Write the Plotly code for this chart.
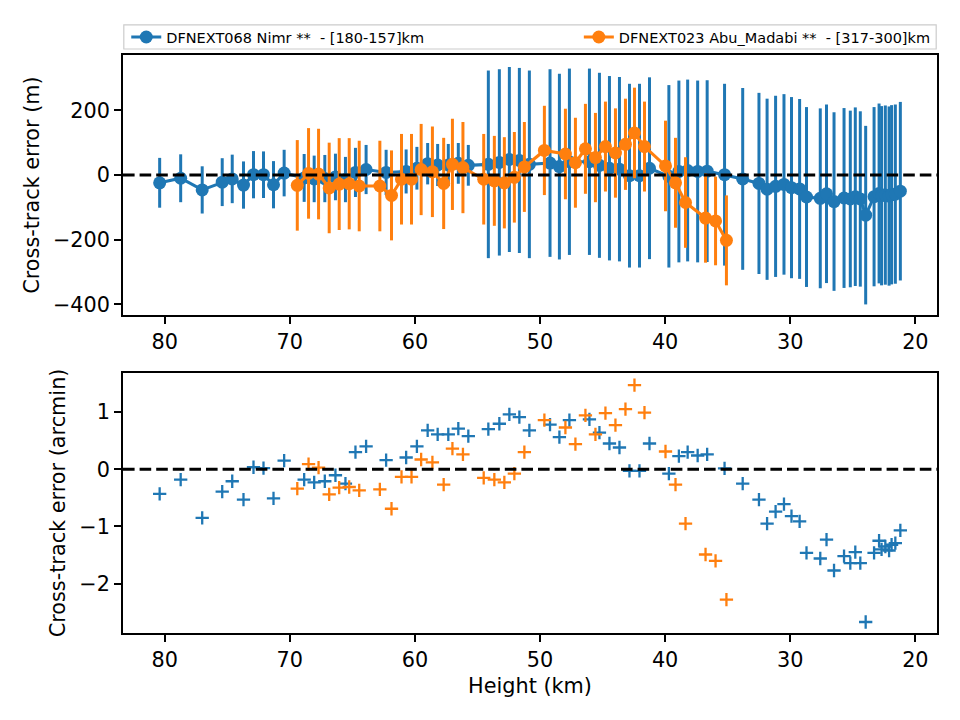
import plotly.graph_objects as go

# ---------------- data ----------------
blue_name = "DFNEXT068 Nimr **  - [180-157]km"
orange_name = "DFNEXT023 Abu_Madabi **  - [317-300]km"

blue_h = [80.4, 78.72, 77.0, 75.4, 74.6, 73.7, 72.9, 72.1, 71.3, 70.45,
          68.85, 68.05, 67.2, 66.35, 65.55, 64.75, 63.9, 62.3, 60.7, 59.84,
          58.98, 58.18, 57.33, 56.53, 55.73, 54.13, 53.25, 52.45, 51.65, 50.85,
          49.2, 48.45, 47.65, 46.05, 45.25, 44.45, 43.65, 42.85, 42.05, 41.25,
          39.7, 38.9, 38.2, 37.4, 36.64, 35.25, 33.8, 32.5, 31.85, 31.17,
          30.5, 29.9, 29.25, 28.7, 27.6, 27.1, 26.5, 25.7, 25.2, 24.8,
          24.4, 23.97, 23.3, 22.9, 22.7, 22.4, 22.1, 21.9, 21.6, 21.2]
blue_m = [-24, -10, -46, -22, -12, -31, 1, 1, -30, 6,
          -9, -12, -11, -6, -14, 8, 17, 8, 11, 21,
          35, 31, 31, 36, 30, 33, 39, 48, 45, 33,
          37, 26, 41, 41, 30, 21, 18, -2, -2, 21,
          -4, 11, 14, 11, 12, 1, -12, -26, -44, -35,
          -29, -39, -43, -68, -72, -58, -82, -71, -74, -67,
          -74, -124, -67, -57, -64, -62, -65, -61, -59, -50]
blue_err = [77, 74, 73, 74, 75, 73, 73, 72, 73, 72,
            74, 72, 73, 72, 70, 76, 76, 70, 68, 66,
            64, 65, 65, 63, 63, 290, 288, 286, 286, 290,
            290, 287, 288, 288, 286, 285, 285, 284, 284, 281,
            282, 281, 281, 281, 281, 281, 281, 280, 280, 280,
            279, 280, 278, 278, 278, 276, 276, 278, 273, 276,
            271, 276, 277, 278, 277, 277, 277, 277, 277, 276]
blue_arcmin = [-0.43, -0.18, -0.85, -0.39, -0.21, -0.53, 0.035, 0.02, -0.51, 0.15,
               -0.18, -0.23, -0.21, -0.105, -0.25, 0.30, 0.40, 0.16, 0.205, 0.40,
               0.68, 0.61, 0.61, 0.71, 0.58, 0.70, 0.795, 0.96, 0.91, 0.68,
               0.78, 0.56, 0.86, 0.87, 0.64, 0.45, 0.38, -0.03, -0.03, 0.45,
               -0.076, 0.23, 0.30, 0.24, 0.26, 0.017, -0.25, -0.53, -0.95, -0.74,
               -0.61, -0.82, -0.91, -1.46, -1.56, -1.23, -1.77, -1.52, -1.64, -1.45,
               -1.64, -2.67, -1.46, -1.25, -1.40, -1.35, -1.42, -1.32, -1.29, -1.07]

orange_h = [69.4, 68.5, 67.7, 66.85, 66.05, 65.25, 64.45, 62.8, 61.87, 61.07,
            60.27, 59.5, 58.6, 57.7, 57.0, 56.16, 54.5, 53.65, 52.85, 52.05,
            51.25, 49.65, 47.97, 47.17, 46.37, 45.57, 44.77, 43.97, 43.17, 42.45,
            41.65, 39.97, 39.17, 38.37, 36.77, 35.97, 35.1]
orange_m = [-32, 5, 3, -40, -28, -27, -34, -34, -63, -13,
            -13, 17, 10, -26, 33, 23, -13, -18, -24, -7,
            25, 76, 65, 38, 81, 54, 88, 68, 95, 130,
            88, 28, -24, -85, -133, -142, -202]
orange_err = [140, 140, 140, 140, 142, 141, 140, 140, 139, 140,
              140, 141, 140, 141, 141, 141, 140, 139, 141, 140,
              139, 138, 140, 139, 139, 138, 139, 138, 141, 140,
              139, 140, 139, 140, 138, 137, 139]
orange_arcmin = [-0.34, 0.088, 0.03, -0.44, -0.32, -0.31, -0.37, -0.35, -0.69, -0.135,
                 -0.135, 0.17, 0.12, -0.27, 0.36, 0.26, -0.15, -0.18, -0.23, -0.076,
                 0.30, 0.86, 0.73, 0.44, 0.94, 0.61, 0.98, 0.77, 1.05, 1.47,
                 0.99, 0.31, -0.27, -0.95, -1.49, -1.60, -2.28]

x_ticks = [80, 70, 60, 50, 40, 30, 20]
top_ticks = [-400, -200, 0, 200]
bot_ticks = [-2, -1, 0, 1]

# ---------------- style ----------------
BLUE = "#1f77b4"
ORANGE = "#ff7f0e"
FONT = "DejaVu Sans"

fig = go.Figure()

for name, h, m, e, c, lg in [(blue_name, blue_h, blue_m, blue_err, BLUE, "legend"),
                             (orange_name, orange_h, orange_m, orange_err, ORANGE, "legend2")]:
    fig.add_trace(go.Scatter(
        x=h, y=m, name=name, mode="lines+markers",
        line=dict(color=c, width=3.1),
        marker=dict(color=c, size=13),
        error_y=dict(type="data", array=e, visible=True, color=c,
                     thickness=3, width=0),
        xaxis="x", yaxis="y", showlegend=True, legend=lg))

for h, a, c in [(blue_h, blue_arcmin, BLUE), (orange_h, orange_arcmin, ORANGE)]:
    fig.add_trace(go.Scatter(
        x=h, y=a, mode="markers",
        marker=dict(symbol="cross-thin", size=9.5, color=c,
                    line=dict(color=c, width=2.3)),
        xaxis="x2", yaxis="y2", showlegend=False))

axis_common = dict(showline=True, linecolor="black", linewidth=1.6, mirror=True,
                   ticks="outside", ticklen=7, tickwidth=1.6, tickcolor="black",
                   showgrid=False, zeroline=False,
                   tickfont=dict(family=FONT, size=20.8, color="black"))

leg_font = dict(family=FONT, size=14.5, color="black")
dash = dict(color="black", width=3.1, dash="11.6px,5px")

fig.update_layout(
    width=960, height=720,
    margin=dict(l=123, r=23, t=55, b=87),
    paper_bgcolor="white", plot_bgcolor="white",
    font=dict(family=FONT, size=20.8, color="black"),
    xaxis=dict(domain=[0, 1], anchor="y", range=[83.33, 18.27],
               tickvals=x_ticks, **axis_common),
    yaxis=dict(domain=[0.55, 1], anchor="x", range=[-433, 371],
               tickvals=top_ticks,
               title=dict(text="Cross-track error (m)", font=dict(size=20.8), standoff=8),
               **axis_common),
    xaxis2=dict(domain=[0, 1], anchor="y2", range=[83.33, 18.27],
                tickvals=x_ticks,
                title=dict(text="Height (km)", font=dict(size=20.8), standoff=8),
                **axis_common),
    yaxis2=dict(domain=[0, 0.45], anchor="x2", range=[-2.862, 1.684],
                tickvals=bot_ticks,
                title=dict(text="Cross-track error (arcmin)", font=dict(size=20.8), standoff=8),
                **axis_common),
    legend=dict(orientation="h", x=0.004, xanchor="left", y=1.031, yanchor="middle",
                font=leg_font, bgcolor="rgba(0,0,0,0)", borderwidth=0, itemwidth=30),
    legend2=dict(orientation="h", x=0.560, xanchor="left", y=1.031, yanchor="middle",
                 font=leg_font, bgcolor="rgba(0,0,0,0)", borderwidth=0, itemwidth=30),
    shapes=[
        dict(type="line", xref="x domain", yref="y", x0=0, x1=1, y0=0, y1=0,
             line=dash, layer="above"),
        dict(type="line", xref="x2 domain", yref="y2", x0=0, x1=1, y0=0, y1=0,
             line=dash, layer="above"),
        dict(type="rect", xref="paper", yref="paper", x0=0.001, x1=0.999,
             y0=1.0104, y1=1.052, line=dict(color="#cccccc", width=1.2),
             fillcolor="rgba(255,255,255,0.8)", layer="below"),
    ],
)

fig.write_html("out.html")
